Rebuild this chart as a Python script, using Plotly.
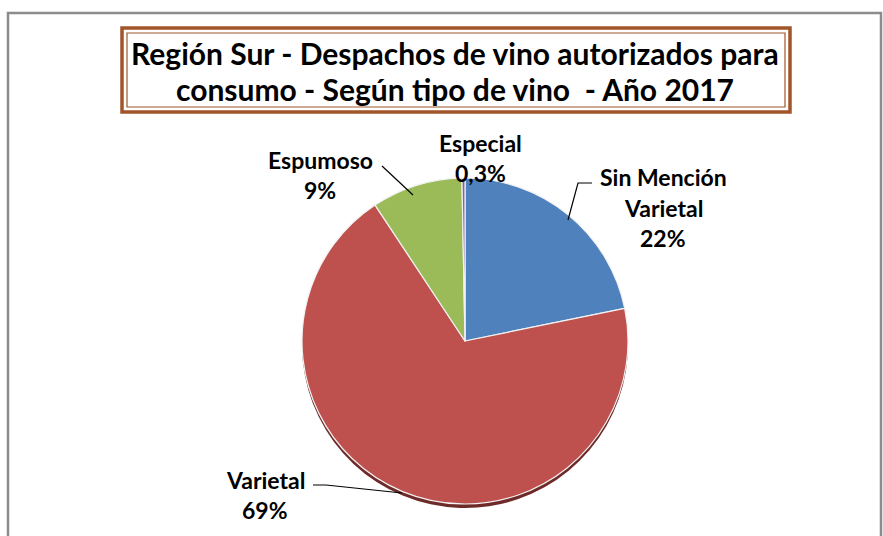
import plotly.graph_objects as go

# ---- data ----
categories = ["Sin Mención Varietal", "Varietal", "Espumoso", "Especial"]
label_lines = [["Sin Mención", "Varietal"], ["Varietal"], ["Espumoso"], ["Especial"]]
shares = [21.8, 68.9, 9.0, 0.3]
colors = ["#4F81BD", "#BE514E", "#9BBB59", "#8064A2"]
shadow_colors = ["#2E4D73", "#6E2A28", "#5C7235", "#4C3C61"]
title_lines = ["Región Sur - Despachos de vino autorizados para",
               "consumo - Según tipo de vino  - Año 2017"]

W, H = 883, 536


def px(x):
    return x / W


def py(y):
    return 1 - y / H


# pie placement (pixels)
cx, cy, r = 465, 341, 163
shadow_dy = 4

fig = go.Figure()
fig.add_trace(go.Pie(
    labels=categories,
    values=shares,
    sort=False,
    direction="clockwise",
    rotation=0,
    marker=dict(colors=shadow_colors, line=dict(color="rgba(0,0,0,0)", width=0)),
    textinfo="none",
    hoverinfo="skip",
    showlegend=False,
    domain=dict(x=[px(cx - r), px(cx + r)],
                y=[py(cy + r + shadow_dy), py(cy - r + shadow_dy)]),
))
fig.add_trace(go.Pie(
    labels=categories,
    values=shares,
    sort=False,
    direction="clockwise",
    rotation=0,
    marker=dict(colors=colors, line=dict(color="#F2F2F2", width=1.2)),
    textinfo="none",
    hoverinfo="label+percent",
    showlegend=False,
    domain=dict(x=[px(cx - r), px(cx + r)], y=[py(cy + r), py(cy - r)]),
))

total = sum(shares)


def fmt_pct(v):
    p = v / total * 100
    if p < 1:
        return f"{p:.1f}".replace(".", ",") + "%"
    return f"{p:.0f}%"


# label positions (pixels): center x, y of first line, line spacing
label_pos = [(663, 177, 30.5), (265, 480, 30), (320, 160, 30), (481, 143, 30)]

annotations = []
for lines, v, (lx, ly, dy) in zip(label_lines, shares, label_pos):
    all_lines = lines + [fmt_pct(v)]
    for i, t in enumerate(all_lines):
        annotations.append(dict(
            x=px(lx), y=py(ly + i * dy), xref="paper", yref="paper",
            text=f"<b>{t}</b>", showarrow=False,
            font=dict(family="Lato", size=23, color="#000000"),
            align="center", xanchor="center", yanchor="middle",
        ))

for i, t in enumerate(title_lines):
    annotations.append(dict(
        x=px(455), y=py(53 + i * 36), xref="paper", yref="paper",
        text=f"<b>{t}</b>", showarrow=False,
        font=dict(family="Lato", size=30, color="#000000"),
        align="center", xanchor="center", yanchor="middle",
    ))


def path(points):
    d = "M " + " L ".join(f"{px(x)},{py(y)}" for x, y in points)
    return dict(type="path", path=d, xref="paper", yref="paper",
                line=dict(color="#000000", width=1.2))


shapes = [
    # outer chart border
    dict(type="rect", xref="paper", yref="paper",
         x0=px(8), x1=px(881), y0=py(545), y1=py(13),
         line=dict(color="#8C8C8C", width=2.5)),
    # title box double border
    dict(type="rect", xref="paper", yref="paper",
         x0=px(122), x1=px(790), y0=py(112), y1=py(28),
         line=dict(color="#A0562A", width=3.5)),
    dict(type="rect", xref="paper", yref="paper",
         x0=px(127), x1=px(785), y0=py(107), y1=py(33),
         line=dict(color="#A0562A", width=1.2)),
    # leader lines
    path([(592, 183), (578, 183), (568, 220)]),
    path([(313, 485), (326, 485), (402, 493)]),
    path([(382, 166), (413, 195)]),
]

fig.update_layout(
    width=W, height=H,
    margin=dict(l=0, r=0, t=0, b=0),
    paper_bgcolor="#FFFFFF",
    plot_bgcolor="#FFFFFF",
    annotations=annotations,
    shapes=shapes,
    separators=",.",
)

fig.write_html("out.html", config={"displayModeBar": False},
               post_script="document.body.style.margin='0';")
